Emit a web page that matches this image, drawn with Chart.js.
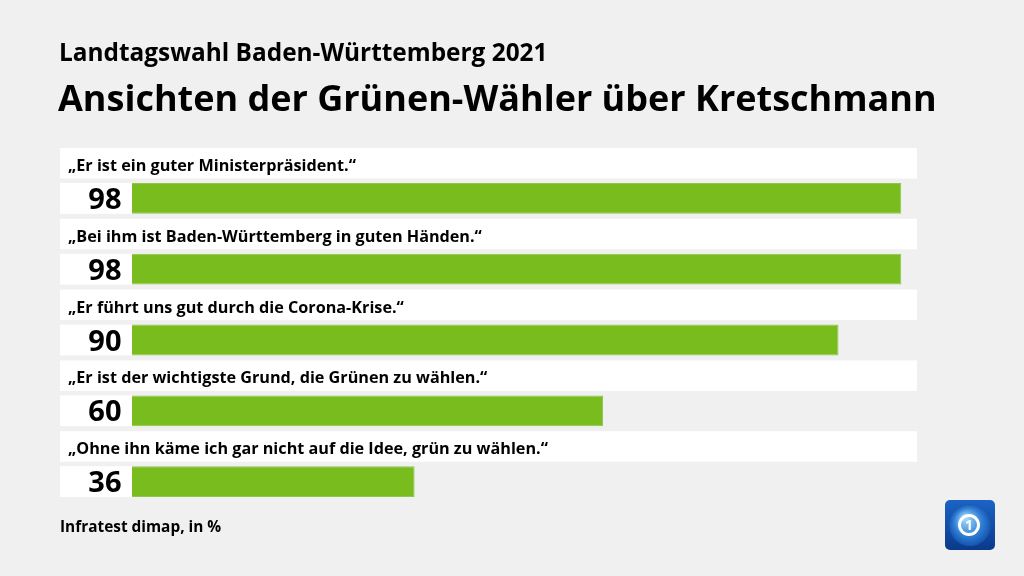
<!DOCTYPE html>
<html lang="de">
<head>
<meta charset="utf-8">
<title>Ansichten der Grünen-Wähler über Kretschmann</title>
<script src="https://cdn.jsdelivr.net/npm/chart.js@4/dist/chart.umd.min.js"></script>
<style>
  html, body { margin: 0; padding: 0; background: #f0f0f0; }
  #wrap { position: relative; width: 1024px; height: 576px; }
</style>
</head>
<body>
<div id="wrap"><canvas id="chart" width="1024" height="576"></canvas></div>
<script>
// Data
const statements = [
    '„Er ist ein guter Ministerpräsident.“',
    '„Bei ihm ist Baden-Württemberg in guten Händen.“',
    '„Er führt uns gut durch die Corona-Krise.“',
    '„Er ist der wichtigste Grund, die Grünen zu wählen.“',
    '„Ohne ihn käme ich gar nicht auf die Idee, grün zu wählen.“'
];
const shares = [98, 98, 90, 60, 36];

const kicker = 'Landtagswahl Baden-Württemberg 2021';
const headline = 'Ansichten der Grünen-Wähler über Kretschmann';
const sourceNote = 'Infratest dimap, in %';

const FONT = '"Open Sans", "Noto Sans", sans-serif';

// Draws titles, the white bands behind labels and values, and the texts
const decorations = {
    id: 'decorations',
    beforeDatasetsDraw(chart) {
        const { ctx, scales } = chart;
        const meta = chart.getDatasetMeta(0);
        const left = 60;
        const right = scales.x.getPixelForValue(100);
        const zero = scales.x.getPixelForValue(0);
        ctx.save();
        meta.data.forEach((bar, i) => {
            const top = bar.y - bar.height / 2;
            ctx.fillStyle = '#ffffff';
            // label band
            ctx.fillRect(left, top - 35, right - left, 30.5);
            // value band
            ctx.fillRect(left, top, zero - left, bar.height);
            ctx.fillStyle = '#000000';
            ctx.textBaseline = 'alphabetic';
            ctx.textAlign = 'left';
            ctx.font = 'bold 16.2px ' + FONT;
            ctx.fillText(statements[i], 68, top - 12);
            ctx.textAlign = 'right';
            ctx.font = 'bold 29px ' + FONT;
            ctx.fillText(String(shares[i]), 121.5, top + 26);
        });
        ctx.restore();
    },
    afterDraw(chart) {
        const ctx = chart.ctx;
        ctx.save();
        ctx.fillStyle = '#000000';
        ctx.textAlign = 'left';
        ctx.textBaseline = 'alphabetic';
        ctx.font = 'bold 24.4px ' + FONT;
        ctx.fillText(kicker, 59, 61);
        ctx.font = 'bold 36px ' + FONT;
        ctx.fillText(headline, 58, 111);
        ctx.font = 'bold 15.4px ' + FONT;
        ctx.fillText(sourceNote, 60, 532);

        // broadcaster logo
        const lx = 945, ly = 500, ls = 50;
        const g = ctx.createLinearGradient(lx, ly, lx, ly + ls);
        g.addColorStop(0, '#1c63c6');
        g.addColorStop(1, '#0a3a8a');
        ctx.fillStyle = g;
        ctx.beginPath();
        ctx.roundRect(lx, ly, ls, ls, 5);
        ctx.fill();
        const rg = ctx.createRadialGradient(lx + 20, ly + 18, 2, lx + 25, ly + 25, 22);
        rg.addColorStop(0, '#9fd6fa');
        rg.addColorStop(0.6, '#2f7fd6');
        rg.addColorStop(1, '#1250ab');
        ctx.fillStyle = rg;
        ctx.beginPath();
        ctx.arc(lx + 25, ly + 25, 21, 0, Math.PI * 2);
        ctx.fill();
        ctx.strokeStyle = '#ffffff';
        ctx.lineWidth = 3;
        ctx.beginPath();
        ctx.arc(lx + 24, ly + 25, 9.5, 0, Math.PI * 2);
        ctx.stroke();
        ctx.fillStyle = '#ffffff';
        ctx.textAlign = 'center';
        ctx.textBaseline = 'middle';
        ctx.font = 'bold 14px ' + FONT;
        ctx.fillText('1', lx + 24, ly + 26);
        ctx.restore();
    }
};

const ctx = document.getElementById('chart').getContext('2d');
new Chart(ctx, {
    type: 'bar',
    data: {
        labels: statements,
        datasets: [{
            data: shares,
            backgroundColor: '#78bc1e',
            borderColor: '#8cc84a',
            borderWidth: { right: 1, top: 1, bottom: 1, left: 0 },
            borderSkipped: 'left',
            barPercentage: 0.435,
            categoryPercentage: 1
        }]
    },
    options: {
        indexAxis: 'y',
        responsive: false,
        animation: false,
        layout: {
            padding: { left: 132, right: 107, top: 163, bottom: 59 }
        },
        scales: {
            x: { display: false, min: 0, max: 100 },
            y: { display: false }
        },
        plugins: {
            legend: { display: false },
            tooltip: { enabled: false }
        }
    },
    plugins: [decorations]
});
</script>
</body>
</html>
